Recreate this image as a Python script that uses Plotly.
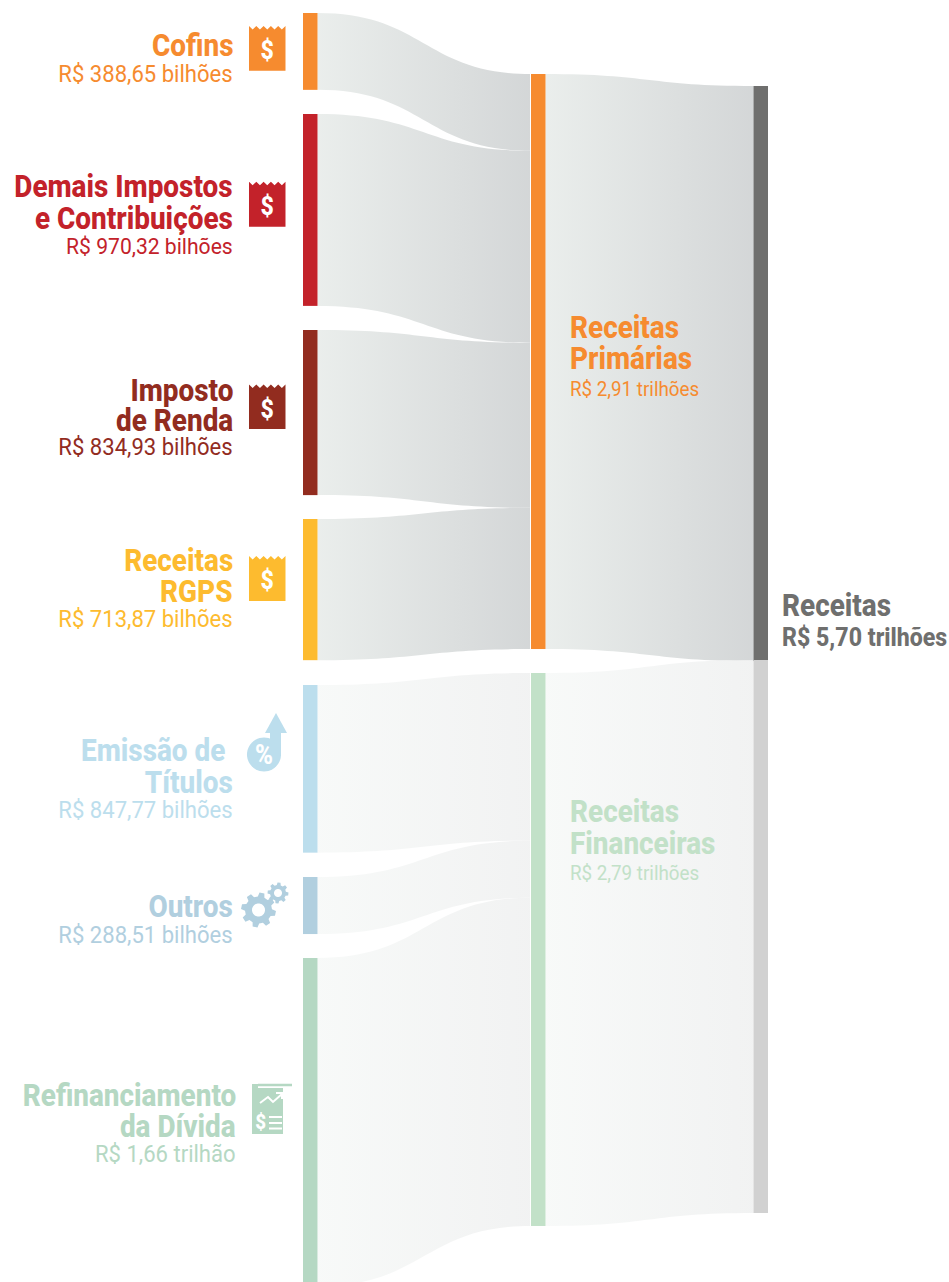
import math
import plotly.graph_objects as go

W, H = 949, 1282

# ---------- data ----------
node_names = ["Cofins", "Demais Impostos e Contribuições", "Imposto de Renda", "Receitas RGPS",
              "Emissão de Títulos", "Outros", "Refinanciamento da Dívida",
              "Receitas Primárias", "Receitas Financeiras",
              "Receitas (primárias)", "Receitas (financeiras)"]
node_colors = ["#f68b2f", "#c3222a", "#922c1f", "#fdbb2f", "#bcdeed", "#b1cfdf", "#b5d8c3",
               "#f68b2f", "#c2e1c8", "#6f6f6e", "#d1d1d1"]
node_left = [303, 303, 303, 303, 303, 303, 303, 531, 531, 753.5, 753.5]
node_top = [13, 114, 330, 519, 685, 877, 958, 74, 673, 86, 660]

link_source = [0, 1, 2, 3, 4, 5, 6, 7, 8]
link_target = [7, 7, 7, 7, 8, 8, 8, 9, 10]
link_values = [388.65, 970.32, 834.93, 713.87, 847.77, 288.51, 1660.0, 2907.77, 2796.28]
link_group = ["p", "p", "p", "p", "f", "f", "f", "p", "f"]

# text, x, y-centre, anchor, size, bold, colour
labels = [
    ("Cofins", 233, 46, "right", 31, True, "#f68b2f"),
    ("R$ 388,65 bilhões", 233, 74, "right", 23, False, "#f68b2f"),
    ("Demais Impostos", 233, 187, "right", 31, True, "#c3222a"),
    ("e Contribuições", 233, 218, "right", 31, True, "#c3222a"),
    ("R$ 970,32 bilhões", 233, 247, "right", 22, False, "#c3222a"),
    ("Imposto", 233, 390, "right", 31, True, "#922c1f"),
    ("de Renda", 233, 420, "right", 31, True, "#922c1f"),
    ("R$ 834,93 bilhões", 233, 447, "right", 23, False, "#922c1f"),
    ("Receitas", 233, 560, "right", 31, True, "#fdbb2f"),
    ("RGPS", 233, 591, "right", 31, True, "#fdbb2f"),
    ("R$ 713,87 bilhões", 233, 620, "right", 23, False, "#fdbb2f"),
    ("Emissão de", 226, 750, "right", 31, True, "#bcdeed"),
    ("Títulos", 233, 782, "right", 31, True, "#bcdeed"),
    ("R$ 847,77 bilhões", 233, 810, "right", 23, False, "#bcdeed"),
    ("Outros", 233, 907, "right", 31, True, "#b1cfdf"),
    ("R$ 288,51 bilhões", 233, 935, "right", 23, False, "#b1cfdf"),
    ("Refinanciamento", 236, 1095, "right", 31, True, "#b5d8c3"),
    ("da Dívida", 236, 1126, "right", 31, True, "#b5d8c3"),
    ("R$ 1,66 trilhão", 236, 1154, "right", 23, False, "#b5d8c3"),
    ("Receitas", 570, 327, "left", 31, True, "#f68b2f"),
    ("Primárias", 570, 358, "left", 31, True, "#f68b2f"),
    ("R$ 2,91 trilhões", 570, 389, "left", 20, False, "#f68b2f"),
    ("Receitas", 570, 811, "left", 31, True, "#c2e1c8"),
    ("Financeiras", 570, 843, "left", 31, True, "#c2e1c8"),
    ("R$ 2,79 trilhões", 570, 873, "left", 20, False, "#c2e1c8"),
    ("Receitas", 782, 605, "left", 31, True, "#6f6f6e"),
    ("R$ 5,70 trilhões", 782, 637, "left", 25, True, "#6f6f6e"),
]

TOP = 13
PAD = 23.5
THICK = 14.5
# plotly places a node by its centre: derive centres from each node's height on the value scale
ky = (H - TOP - 6 * PAD) / sum(link_values[:7])
totals = [0.0] * len(node_names)
for s, t, v in zip(link_source, link_target, link_values):
    if s < 7:
        totals[s] = v
        totals[t] += v
    else:
        totals[t] = v
centre_y = [top + tot * ky / 2 for top, tot in zip(node_top, totals)]

sankey = go.Sankey(
    arrangement="fixed",
    domain=dict(x=[0, 1], y=[0, 1 - TOP / H]),
    node=dict(
        label=[""] * len(node_names),
        customdata=node_names,
        hovertemplate="%{customdata}<extra></extra>",
        color=node_colors,
        x=[(v + THICK / 2) / W for v in node_left],
        y=[(v - TOP) / (H - TOP) for v in centre_y],
        pad=PAD,
        thickness=THICK,
        line=dict(width=0),
    ),
    link=dict(
        source=link_source, target=link_target, value=link_values,
        color=["rgba(222,225,225,0.9)" if g == "p" else "rgba(244,245,245,0.9)" for g in link_group],
        customdata=link_group,
    ),
)

# ---------- helpers ----------
def px(x): return x / W
def py(y): return 1 - y / H

def path(points, close=True):
    s = "M" + " L".join(f"{px(x):.5f},{py(y):.5f}" for x, y in points)
    return s + (" Z" if close else "")

shapes = []
def fill_shape(points, color):
    shapes.append(dict(type="path", xref="paper", yref="paper", path=path(points),
                       fillcolor=color, line=dict(width=0)))
def line_shape(points, color, width):
    shapes.append(dict(type="path", xref="paper", yref="paper", path=path(points, False),
                       fillcolor="rgba(0,0,0,0)", line=dict(color=color, width=width)))

annotations = []
def text(t, x, y, anchor, size, bold, color):
    annotations.append(dict(
        xref="paper", yref="paper", x=px(x), y=py(y), xanchor=anchor, yanchor="middle",
        text=t, showarrow=False, align=anchor,
        font=dict(family="Roboto", size=size, color=color, weight=800 if bold else 400),
        borderpad=0, borderwidth=0,
    ))

for lab in labels:
    text(*lab)

def receipt(x0, y0, y1, color):
    x1 = x0 + 36.5
    teeth = 5
    pts = [(x0, y1), (x0, y0)]
    step = (x1 - x0) / teeth
    for i in range(teeth):
        pts.append((x0 + step * (i + .5), y0 + 3.5))
        pts.append((x0 + step * (i + 1), y0))
    pts.append((x1, y1))
    fill_shape(pts, color)
    text("$", (x0 + x1) / 2, (y0 + y1) / 2 + 2.5, "center", 25, True, "#ffffff")

receipt(249, 26, 70.7, "#f68b2f")
receipt(249, 181.7, 226.7, "#c3222a")
receipt(249, 384.5, 429, "#922c1f")
receipt(249, 556, 601, "#fdbb2f")

# percent icon
def circle(cx, cy, r, n=48):
    return [(cx + r * math.cos(2 * math.pi * i / n), cy + r * math.sin(2 * math.pi * i / n)) for i in range(n)]
fill_shape(circle(264, 754.5, 17), "#bcdeed")
fill_shape([(265, 733), (287, 733), (276, 713)], "#bcdeed")
fill_shape([(270, 733), (281, 733), (281, 756), (270, 756)], "#bcdeed")
text("%", 263.5, 755, "center", 27, True, "#ffffff")

# gears
def gear(cx, cy, ro, ri, hole, teeth, rot, color):
    pts = []
    for i in range(teeth):
        a = 2 * math.pi * i / teeth + rot
        d = 2 * math.pi / teeth
        for frac, r in [(-.32, ri), (-.18, ro), (.18, ro), (.32, ri)]:
            pts.append((cx + r * math.cos(a + frac * d), cy + r * math.sin(a + frac * d)))
    fill_shape(pts, color)
    fill_shape(circle(cx, cy, hole), "#ffffff")
gear(258.5, 910, 17.5, 13.5, 6.5, 8, .2, "#b1cfdf")
gear(278, 893, 10.5, 8, 4, 8, .1, "#b1cfdf")

# document icon
C = "#b5d8c3"
fill_shape([(252, 1084), (258, 1084), (258, 1088), (283, 1088), (283, 1134), (252, 1134)], C)
line_shape([(258, 1085), (292, 1085)], C, 2.5)
line_shape([(260, 1103), (268, 1097), (273, 1102), (282, 1094)], "#ffffff", 2)
line_shape([(276, 1093), (282, 1093), (282, 1099)], "#ffffff", 2)
for yy in (1117, 1123, 1128.5):
    line_shape([(269, yy), (282, yy)], "#ffffff", 2)
text("$", 260.5, 1122, "center", 20, True, "#ffffff")

# hairline between the links and the middle column
line_shape([(530.5, 74), (530.5, 649)], "#ffffff", 1)
line_shape([(530.5, 673), (530.5, 1226)], "#ffffff", 1)

fig = go.Figure(sankey)
fig.update_layout(width=W, height=H, margin=dict(l=0, r=0, t=0, b=0), paper_bgcolor="#ffffff",
                  shapes=shapes, annotations=annotations, showlegend=False)

# gradient fill along each link, narrower glyphs for the condensed type
post = r"""
document.documentElement.style.margin='0';document.body.style.margin='0';
var gd=document.getElementById('{plot_id}');
var svg=gd.querySelector('.main-svg');
var NS='http://www.w3.org/2000/svg';
var defs=document.createElementNS(NS,'defs');
function grad(id,a,b){var g=document.createElementNS(NS,'linearGradient');g.setAttribute('id',id);
 [[0,a],[1,b]].forEach(function(s){var t=document.createElementNS(NS,'stop');t.setAttribute('offset',s[0]);t.setAttribute('stop-color',s[1]);g.appendChild(t);});
 defs.appendChild(g);}
grad('gp','#e8ecea','#cfd2d3');grad('gf','#f7f9f8','#f0f1f1');svg.appendChild(defs);
var groups=gd.data[0].link.customdata;
gd.querySelectorAll('.sankey-link').forEach(function(p,i){var d=p.__data__;var g=d&&d.link&&d.link.customdata?d.link.customdata:groups[i];p.style.fill='url(#g'+g+')';});
var SX={31:0.90,23:0.96,22:0.96,20:0.94,25:0.925,27:0.9};
gd.querySelectorAll('.annotation-text').forEach(function(t){
 t.style.transformBox='fill-box';
 var anchor=t.closest('.annotation');var a=anchor.getAttribute('data-index');
 var ann=gd.layout.annotations[+a];
 t.style.transformOrigin=ann.xanchor==='right'?'right center':(ann.xanchor==='left'?'left center':'center');
 t.style.transform='scaleX('+(SX[ann.font.size]||0.9)+')';
});
"""
fig.write_html("out.html", post_script=post, config=dict(displayModeBar=False))
